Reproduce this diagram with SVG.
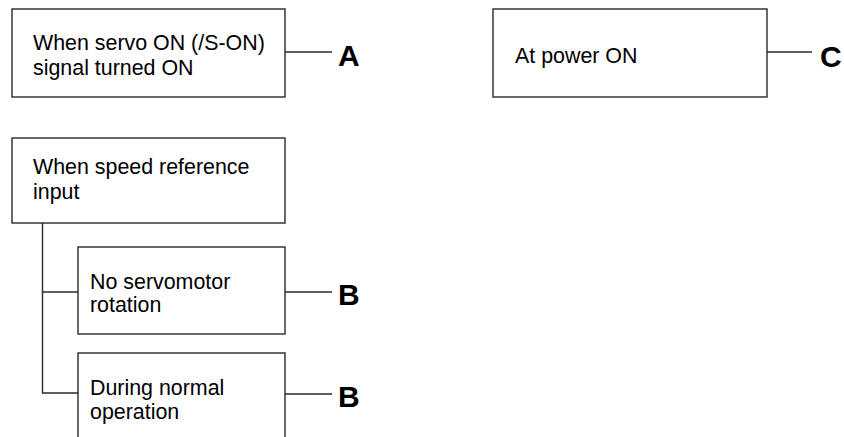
<svg xmlns="http://www.w3.org/2000/svg" width="844" height="437" viewBox="0 0 844 437">
<style>
.box{fill:#fff;stroke:#2a2a2a;stroke-width:1.4}
.ln{fill:none;stroke:#2a2a2a;stroke-width:1.4}
.t{font-family:"Liberation Sans",Arial,sans-serif;font-size:21.4px;fill:#000}
.lbl{font-family:"Liberation Sans",Arial,sans-serif;font-size:30px;font-weight:bold;fill:#000}
</style>
<rect width="844" height="437" fill="#fff"/>
<g id="connectors">
<line class="ln" x1="285" y1="52" x2="332" y2="52"/>
<line class="ln" x1="767" y1="52" x2="812" y2="52"/>
<polyline class="ln" points="42.5,223 42.5,393 78,393"/>
<line class="ln" x1="42.5" y1="292" x2="78" y2="292"/>
<line class="ln" x1="285" y1="292" x2="332" y2="292"/>
<line class="ln" x1="285" y1="394" x2="332" y2="394"/>
</g>
<g id="nodeA">
<rect class="box" x="12" y="9" width="273" height="88"/>
<text class="t" x="33" y="49.5">When servo ON (/S-ON)</text>
<text class="t" x="33" y="74.5">signal turned ON</text>
</g>
<g id="labelA"><text class="lbl" x="338" y="66">A</text></g>
<g id="nodeC">
<rect class="box" x="493" y="9" width="274" height="88"/>
<text class="t" x="515" y="62.5">At power ON</text>
</g>
<g id="labelC"><text class="lbl" x="820" y="67">C</text></g>
<g id="nodeSpeed">
<rect class="box" x="12" y="138" width="273" height="85"/>
<text class="t" x="33" y="174">When speed reference</text>
<text class="t" x="33" y="198.5">input</text>
</g>
<g id="nodeNoRot">
<rect class="box" x="78" y="247" width="207" height="87"/>
<text class="t" x="90" y="288.5">No servomotor</text>
<text class="t" x="90" y="312">rotation</text>
</g>
<g id="labelB1"><text class="lbl" x="338" y="305">B</text></g>
<g id="nodeNormal">
<rect class="box" x="78" y="353" width="207" height="100"/>
<text class="t" x="90" y="395">During normal</text>
<text class="t" x="90" y="419">operation</text>
</g>
<g id="labelB2"><text class="lbl" x="338" y="407">B</text></g>
</svg>
